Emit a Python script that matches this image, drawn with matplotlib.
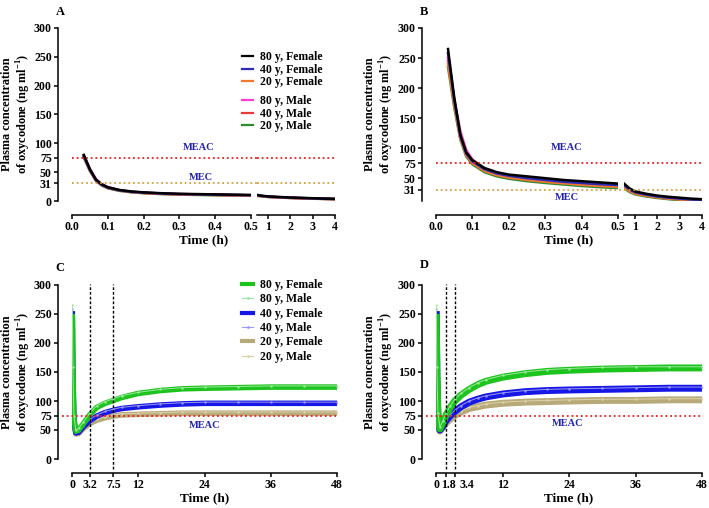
import matplotlib
matplotlib.use('Agg')
import matplotlib.pyplot as plt
from matplotlib.lines import Line2D
from matplotlib.transforms import ScaledTranslation

# ---- data ----
t_ab = [0.033, 0.05, 0.067, 0.083, 0.1, 0.133, 0.167, 0.2, 0.25, 0.3, 0.35, 0.4, 0.45, 0.5,
        0.75, 1, 1.5, 2, 2.5, 3, 3.5, 4]

a_80f = [80, 55, 37, 29, 24, 19, 16.5, 15, 13.5, 12.5, 12, 11.5, 11, 10.5, 9, 8, 7, 6, 5.5, 4.8, 4.2, 3.8]
a_40f = [78, 54, 36, 28, 23, 18.5, 16, 14.5, 13, 12, 11.5, 11, 10.5, 10, 8.6, 7.6, 6.6, 5.7, 5.1, 4.5, 4, 3.5]
a_20f = [76, 53, 35, 27, 22.5, 18, 15.5, 14, 12.5, 11.5, 11, 10.5, 10, 9.5, 8.2, 7.2, 6.2, 5.4, 4.8, 4.2, 3.7, 3.2]
a_80m = [79, 56, 38, 29.5, 24, 19, 16, 14.5, 13, 12, 11.5, 11, 10.5, 10, 8.5, 7.5, 6.5, 5.6, 5, 4.4, 3.9, 3.4]
a_40m = [77, 54, 36, 28, 23, 18.5, 15.5, 14, 12.5, 11.5, 11, 10.5, 10, 9.5, 8.2, 7.2, 6.2, 5.4, 4.8, 4.2, 3.7, 3.2]
a_20m = [75, 52, 35, 27, 22, 17.5, 15, 13.5, 12, 11, 10.5, 10, 9.5, 9, 7.8, 6.9, 6, 5.2, 4.6, 4, 3.5, 3]

b_80f = [265, 185, 122, 93, 80, 67, 60, 56, 53, 50, 47, 45, 43, 41, 33, 28, 24, 21, 19, 17.5, 16, 15]
b_40f = [258, 180, 120, 91, 78, 65, 58, 54, 50, 47, 44, 42, 40, 38.5, 31, 26.5, 22.5, 19.5, 17.5, 16, 14.5, 13.5]
b_20f = [240, 172, 116, 88, 75, 62, 55, 51, 47, 44, 41.5, 39, 37, 35.5, 28.5, 24, 20.5, 18, 16, 14.5, 13.5, 12.5]
b_80m = [250, 182, 128, 97, 81, 66, 58, 54, 50, 47, 44.5, 42.5, 40.5, 39, 31.5, 27, 23, 20, 18, 16.5, 15, 14]
b_40m = [245, 176, 118, 89, 76, 63, 56, 52, 48, 45, 42.5, 40, 38, 36.5, 29.5, 25, 21.5, 18.5, 16.5, 15, 14, 13]
b_20m = [235, 168, 114, 86, 73, 60, 53, 49, 45, 42, 39.5, 37, 35, 33.5, 27, 23, 19.5, 17, 15, 13.5, 12.5, 11.5]

t_c = [0.05, 0.15, 0.35, 0.7, 1.2, 2, 3.2, 4.5, 6, 7.5, 9, 12, 16, 20, 24, 30, 36, 42, 48]
c_80f = [250, 150, 70, 48, 50, 60, 76, 89, 96, 101, 106, 113, 118, 121, 122, 123, 124, 124, 124]
c_80m = [265, 158, 74, 50, 53, 63, 79, 92, 99, 104, 109, 115, 120, 123, 124, 125, 126, 126, 126]
c_40f = [255, 140, 65, 45, 46, 55, 66, 74, 80, 84, 87, 90, 93, 95, 96, 96, 96, 96, 96]
c_40m = [258, 145, 68, 47, 48, 57, 68, 76, 82, 86, 89, 92, 95, 97, 98, 98, 98, 98, 98]
c_20f = [245, 130, 60, 43, 44, 52, 61, 67, 71, 74, 76, 77, 78, 79, 79, 79, 79, 79, 79]
c_20m = [248, 134, 62, 44, 46, 54, 63, 69, 73, 76, 78, 79, 80, 81, 81, 81, 81, 81, 81]

t_d = [0.05, 0.15, 0.35, 0.7, 1.2, 1.8, 2.5, 3.4, 4.5, 6, 7.5, 9, 12, 16, 20, 24, 30, 36, 42, 48]
d_80f = [250, 150, 75, 52, 62, 75, 88, 100, 110, 120, 128, 134, 141, 147, 151, 153, 155, 156, 157, 157]
d_80m = [265, 158, 79, 55, 65, 78, 91, 103, 113, 123, 131, 137, 144, 150, 154, 156, 158, 159, 159, 159]
d_40f = [255, 140, 68, 50, 56, 66, 74, 82, 90, 98, 103, 107, 112, 116, 118, 119, 120, 121, 122, 122]
d_40m = [258, 145, 71, 52, 58, 68, 76, 84, 92, 100, 105, 109, 114, 118, 120, 121, 122, 123, 124, 124]
d_20f = [245, 130, 62, 48, 54, 62, 68, 75, 81, 87, 90, 93, 96, 98, 99, 100, 101, 101, 102, 102]
d_20m = [248, 134, 64, 49, 56, 64, 70, 77, 83, 89, 92, 95, 98, 100, 101, 102, 103, 103, 104, 104]

labels_ab = ['80 y, Female', '40 y, Female', '20 y, Female', '80 y, Male', '40 y, Male', '20 y, Male']
colors_ab = ['black', '#2b2bb8', '#f07830', '#ff40d0', '#e83838', '#2e8b2e']
labels_cd = ['80 y, Female', '80 y, Male', '40 y, Female', '40 y, Male', '20 y, Female', '20 y, Male']
col_f = ['#1ec41e', '#1616e6', '#b8aa78']
col_m = ['#9be89b', '#9a9af0', '#dcd3ae']

MEAC, MEC = 75, 31

# ---- style ----
plt.rcParams['font.family'] = ['Liberation Serif', 'DejaVu Serif']
plt.rcParams['font.weight'] = 'bold'
plt.rcParams['mathtext.fontset'] = 'custom'
plt.rcParams['mathtext.rm'] = 'Liberation Serif:bold'
plt.rcParams['mathtext.bf'] = 'Liberation Serif:bold'

W, H = 709, 508
fig = plt.figure(figsize=(W / 100, H / 100), dpi=100)


def px_axes(x0, y0, x1, y1):
    return fig.add_axes([x0 / W, 1 - y1 / H, (x1 - x0) / W, (y1 - y0) / H])


def ftext(x, y, s, **kw):
    fig.text(x / W, 1 - y / H, s, ha='center', va='center', **kw)


def style(ax, left=True):
    ax.patch.set_alpha(0)
    for s in ['top', 'right']:
        ax.spines[s].set_visible(False)
    ax.spines['bottom'].set_position(('outward', 10))
    ax.spines['bottom'].set_linewidth(1.1)
    if left:
        ax.spines['left'].set_position(('outward', 10))
        ax.spines['left'].set_linewidth(1.1)
    else:
        ax.spines['left'].set_visible(False)
        ax.tick_params(axis='y', left=False, labelleft=False)
    ax.tick_params(direction='out', length=3, width=1.1, labelsize=8.6, pad=1.5)


dots = (0, (1, 1.6))
ylab1 = 'Plasma concentration'
ylab2 = r'of oxycodone (ng ml$^{-1}$)'

# ---- panels A and B (broken x axis) ----
series_a = [a_80f, a_40f, a_20f, a_80m, a_40m, a_20m]
series_b = [b_80f, b_40f, b_20f, b_80m, b_40m, b_20m]

panels_ab = [
    dict(x0=72, x1=251, x2=257, x3=335, series=series_a, ylo=0,
         yt=[0, 31, 50, 75, 100, 150, 200, 250, 300], tag='A', ylx=16,
         meac=(199, 148), mec=(201, 177)),
    dict(x0=436, x1=618, x2=624, x3=702, series=series_b, ylo=12,
         yt=[31, 50, 75, 100, 150, 200, 250, 300], tag='B', ylx=379,
         meac=(567, 148), mec=(567, 198)),
]

for p in panels_ab:
    axl = px_axes(p['x0'], 28, p['x1'], 201)
    axr = px_axes(p['x2'], 28, p['x3'], 201)
    for ax, lim in [(axl, (0, 0.5)), (axr, (0.5, 4))]:
        for i in [5, 4, 3, 2, 1, 0]:
            ax.plot(t_ab, p['series'][i], color=colors_ab[i], lw=1.8)
        ax.set_xlim(*lim)
        ax.set_ylim(p['ylo'], 300)
    gap = (p['x2'] - p['x1']) / (p['x1'] - p['x0'])
    axl.axhline(MEAC, 0, 1 + gap, color='#e82020', ls=dots, lw=1.3, clip_on=False)
    axr.axhline(MEAC, color='#e82020', ls=dots, lw=1.3)
    axl.axhline(MEC, 0, 1 + gap, color='#d8a040', ls=dots, lw=1.3, clip_on=False)
    axr.axhline(MEC, color='#d8a040', ls=dots, lw=1.3)
    style(axl)
    style(axr, left=False)
    axl.set_yticks(p['yt'])
    axl.set_xticks([0, 0.1, 0.2, 0.3, 0.4, 0.5])
    axl.set_xticklabels(['0.0', '0.1', '0.2', '0.3', '0.4', '0.5'])
    axr.set_xticks([1, 2, 3, 4])
    ftext(p['x0'] - 12, 12, p['tag'], fontsize=9)
    ftext(p['ylx'] - 9, 114, ylab1, rotation=90, fontsize=8.8)
    ftext(p['ylx'] + 8, 114, ylab2, rotation=90, fontsize=8.8)
    ftext((p['x0'] + p['x3']) / 2, 240, 'Time (h)', fontsize=9.5)
    ftext(*p['meac'], 'MEAC', fontsize=7.5, color='#2424b0')
    ftext(*p['mec'], 'MEC', fontsize=7.5, color='#2424b0')

# legend for A (two groups)
h1 = [Line2D([], [], color=colors_ab[i], lw=1.6) for i in range(3)]
h2 = [Line2D([], [], color=colors_ab[i], lw=1.6) for i in range(3, 6)]
for hs, labs, top in [(h1, labels_ab[:3], 51), (h2, labels_ab[3:], 95)]:
    fig.legend(hs, labs, loc='upper left', bbox_to_anchor=(242 / W, 1 - top / H),
               frameon=False, fontsize=8.5, handlelength=0.95, handletextpad=0.55,
               labelspacing=0.06, borderpad=0, borderaxespad=0)

# ---- panels C and D ----
panels_cd = [
    dict(x0=72, x1=337, t=t_c, f=[c_80f, c_40f, c_20f], m=[c_80m, c_40m, c_20m],
         vl=[3.2, 7.5], xt=[0, 3.2, 7.5, 12, 24, 36, 48], xtl=['0', '3.2', '7.5', '12', '24', '36', '48'],
         shift={}, tag='C', tagy=268, ylx=16, lw=4.0, meac=(205, 426)),
    dict(x0=436, x1=702, t=t_d, f=[d_80f, d_40f, d_20f], m=[d_80m, d_40m, d_20m],
         vl=[1.8, 3.4], xt=[0, 1.8, 3.4, 12, 24, 36, 48], xtl=['0', '1.8', '3.4', '12', '24', '36', '48'],
         shift={1: 2, 2: 12}, tag='D', tagy=265, ylx=379, lw=5.0, meac=(568, 423)),
]

for p in panels_cd:
    ax = px_axes(p['x0'], 285, p['x1'], 459)
    for i in [2, 1, 0]:
        ax.plot(p['t'], p['f'][i], color=col_f[i], lw=p['lw'], solid_capstyle='butt')
        ax.plot(p['t'], p['m'][i], color=col_m[i], lw=0.7, marker='.', ms=1.5)
    ax.set_xlim(0, 48)
    ax.set_ylim(0, 300)
    for v in p['vl']:
        ax.plot([v, v], [-17, 301], color='black', ls=(0, (2, 1.4)), lw=1.0, clip_on=False)
    ax.plot([-1.8, 48], [MEAC, MEAC], color='#e82020', ls=dots, lw=1.3, clip_on=False)
    style(ax)
    ax.set_yticks([0, 50, 75, 100, 150, 200, 250, 300])
    ax.set_xticks(p['xt'])
    ax.set_xticklabels(p['xtl'])
    for k, dx in p['shift'].items():
        lab = ax.get_xticklabels()[k]
        lab.set_transform(lab.get_transform() + ScaledTranslation(dx / 100, 0, fig.dpi_scale_trans))
    ftext(p['x0'] - 12, p['tagy'], p['tag'], fontsize=9)
    ftext(p['ylx'] - 9, 372, ylab1, rotation=90, fontsize=8.8)
    ftext(p['ylx'] + 8, 372, ylab2, rotation=90, fontsize=8.8)
    ftext((p['x0'] + p['x1']) / 2, 498, 'Time (h)', fontsize=9.5)
    ftext(*p['meac'], 'MEAC', fontsize=7.5, color='#2424b0')

# legend for C
hc = []
for i in range(3):
    hc.append(Line2D([], [], color=col_f[i], lw=3))
    hc.append(Line2D([], [], color=col_m[i], lw=0.8, marker='.', ms=2))
fig.legend(hc, labels_cd, loc='upper left', bbox_to_anchor=(242 / W, 1 - 279 / H),
           frameon=False, fontsize=8.5, handlelength=0.95, handletextpad=0.55,
           labelspacing=0.2, borderpad=0, borderaxespad=0)

fig.savefig('out.png', dpi=100)
